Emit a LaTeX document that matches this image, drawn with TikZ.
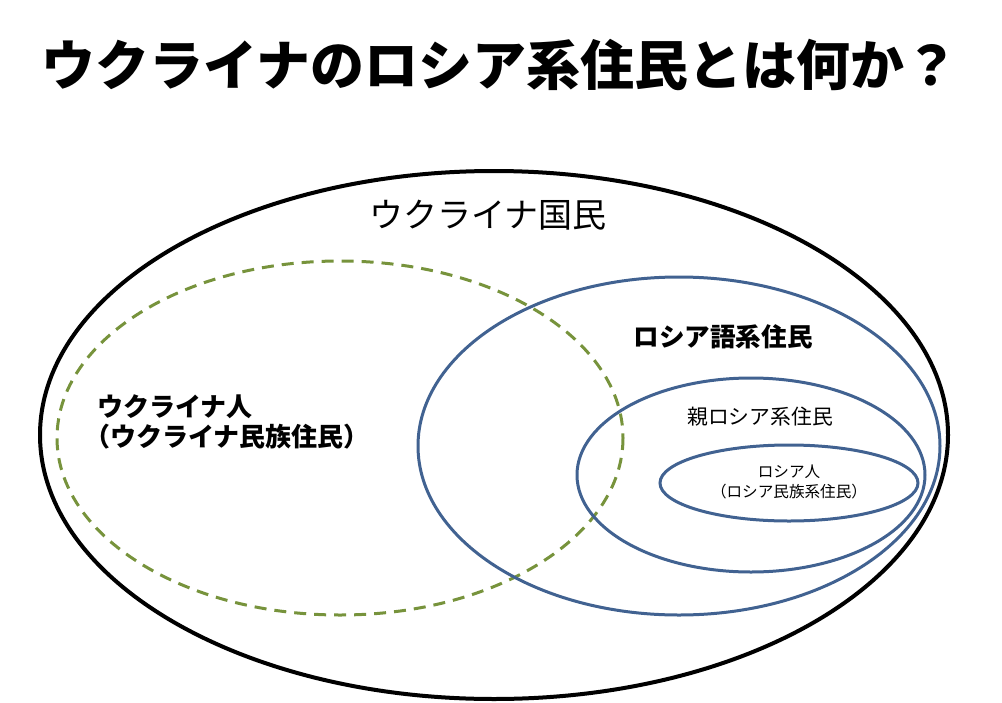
\documentclass[tikz,border=0pt]{standalone}
\usepackage{fontspec}
\setmainfont{Noto Sans CJK JP}
\usepackage{xcolor}
\usepackage{tikz}
\definecolor{rublue}{RGB}{65,98,145}
\definecolor{ukgreen}{RGB}{119,147,60}
\begin{document}
\begin{tikzpicture}[
x=0.5pt, y=-0.5pt,
txt/.style={align=center, inner sep=0pt},
outer/.style={draw=black, line width=2pt},
rusring/.style={draw=rublue, line width=1.5pt},
ukring/.style={draw=ukgreen, line width=1.5pt, dash pattern=on 6pt off 4pt}
]
\useasboundingbox (0,0) rectangle (1002,702);

% Title
\node[txt, font=\bfseries\fontsize{27}{32}\selectfont] (title) at (500,65) {ウクライナのロシア系住民とは何か？};

% Sets
\draw[outer] (494,435) ellipse [x radius=454, y radius=264];
\draw[ukring] (340,438) ellipse [x radius=283, y radius=177];
\draw[rusring] (679,446) ellipse [x radius=261, y radius=169];
\draw[rusring] (751,475) ellipse [x radius=174, y radius=97];
\draw[rusring] (789,483) ellipse [x radius=129, y radius=38];

% Labels
\node[txt, font=\fontsize{17}{20}\selectfont] (nation) at (488,215) {ウクライナ国民};
\node[txt, font=\bfseries\fontsize{12.8}{15}\selectfont] (russpeak) at (723,337) {ロシア語系住民};
\node[txt, font=\fontsize{10.4}{12}\selectfont] (prorus) at (760,417) {親ロシア系住民};
\node[txt, font=\fontsize{7.8}{10}\selectfont\addfontfeatures{CharacterWidth=AlternateHalf}] (rusppl) at (789,482) {ロシア人\\（ロシア民族系住民）};
\node[txt, align=left, anchor=west, font=\bfseries\fontsize{13}{15}\selectfont\addfontfeatures{CharacterWidth=AlternateHalf}] (ukppl) at (97,422) {ウクライナ人\\（ウクライナ民族住民）};

\end{tikzpicture}
\end{document}
